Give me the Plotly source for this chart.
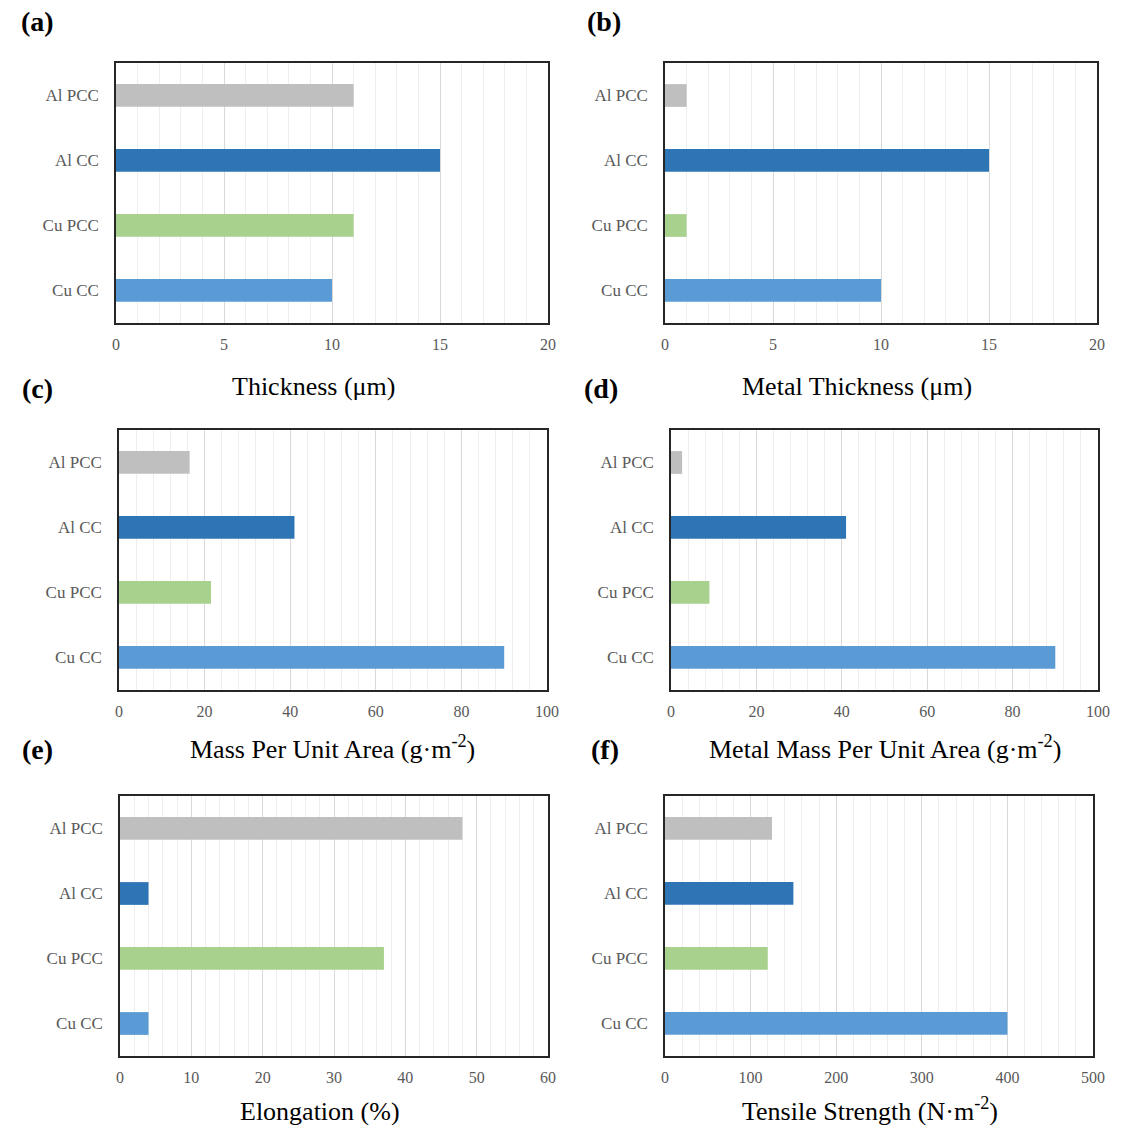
import plotly.graph_objects as go

# Current-collector samples, listed top to bottom
categories = ["Al PCC", "Al CC", "Cu PCC", "Cu CC"]
bar_colors = ["#BFBFBF", "#2E75B6", "#A9D18E", "#5B9BD5"]

# Measured properties per sample
thickness = [11, 15, 11, 10]                 # µm
metal_thickness = [1, 15, 1, 10]             # µm
mass_per_area = [16.5, 41, 21.5, 90]         # g·m-2
metal_mass_per_area = [2.6, 41, 9, 90]       # g·m-2
elongation = [48, 4, 37, 4]                  # %
tensile_strength = [125, 150, 120, 400]      # N·m-2

panel_labels = ["(a)", "(b)", "(c)", "(d)", "(e)", "(f)"]
axis_titles = [
    "Thickness (μm)",
    "Metal Thickness (μm)",
    "Mass Per Unit Area (g·m<sup>-2</sup>)",
    "Metal Mass Per Unit Area (g·m<sup>-2</sup>)",
    "Elongation (%)",
    "Tensile Strength (N·m<sup>-2</sup>)",
]
series = [thickness, metal_thickness, mass_per_area,
          metal_mass_per_area, elongation, tensile_strength]
x_max = [20, 20, 100, 100, 60, 500]
major_step = [5, 5, 20, 20, 10, 100]
minor_step = [1, 1, 4, 4, 2, 20]

# Layout geometry in pixels: plot box (x0, y0, x1, y1), panel-label and title anchors
W, H = 1124, 1125
boxes = [
    (116, 63, 548, 323), (665, 63, 1097, 323),
    (119, 430, 547, 690), (671, 430, 1098, 690),
    (120, 796, 548, 1056), (665, 796, 1093, 1056),
]
label_pos = [(37, 21), (604, 21), (37, 389), (601, 389), (37, 749), (605, 749)]
title_pos = [(313, 387), (857, 387), (332, 747), (885, 747), (320, 1111), (870, 1109)]

SERIF = "Liberation Serif"
TICK_COLOR = "#595959"

fig = go.Figure()
annotations = []
for i in range(6):
    sfx = "" if i == 0 else str(i + 1)
    x0, y0, x1, y1 = boxes[i]
    fig.add_trace(go.Bar(
        x=series[i], y=categories, orientation="h",
        marker=dict(color=bar_colors, line=dict(width=0)),
        width=0.35, xaxis="x" + sfx, yaxis="y" + sfx,
        showlegend=False, hoverinfo="x+y",
    ))
    fig.layout["xaxis" + sfx] = dict(
        domain=[x0 / W, x1 / W], anchor="y" + sfx, automargin=False,
        range=[0, x_max[i]], dtick=major_step[i], tick0=0,
        showgrid=True, gridcolor="#D9D9D9", gridwidth=1,
        minor=dict(dtick=minor_step[i], tick0=0, showgrid=True,
                   gridcolor="#EEEEEE", gridwidth=1),
        zeroline=False, showline=True, mirror=True,
        linecolor="#262626", linewidth=1.5, ticks="",
        ticklabelstandoff=6,
        tickfont=dict(family=SERIF, size=16, color=TICK_COLOR),
        fixedrange=True,
    )
    fig.layout["yaxis" + sfx] = dict(
        domain=[1 - y1 / H, 1 - y0 / H], anchor="x" + sfx, automargin=False,
        type="category", categoryorder="array", categoryarray=categories,
        autorange="reversed", showgrid=False, zeroline=False,
        showline=True, mirror=True, linecolor="#262626", linewidth=1.5,
        ticks="", ticklabelstandoff=12,
        tickfont=dict(family=SERIF, size=17, color=TICK_COLOR),
        fixedrange=True,
    )
    lx, ly = label_pos[i]
    annotations.append(dict(
        text="<b>" + panel_labels[i] + "</b>", x=lx / W, y=1 - ly / H,
        xref="paper", yref="paper", xanchor="center", yanchor="middle",
        showarrow=False, font=dict(family=SERIF, size=28, color="black"),
    ))
    tx, ty = title_pos[i]
    annotations.append(dict(
        text=axis_titles[i], x=tx / W, y=1 - ty / H,
        xref="paper", yref="paper", xanchor="center", yanchor="middle",
        showarrow=False, font=dict(family=SERIF, size=26, color="black"),
    ))

fig.update_layout(
    template="none",
    width=W, height=H, autosize=False,
    margin=dict(l=0, r=0, t=0, b=0, pad=0),
    font=dict(family=SERIF),
    paper_bgcolor="white", plot_bgcolor="white",
    bargap=0.65, annotations=annotations,
)

fig.write_html("out.html")
